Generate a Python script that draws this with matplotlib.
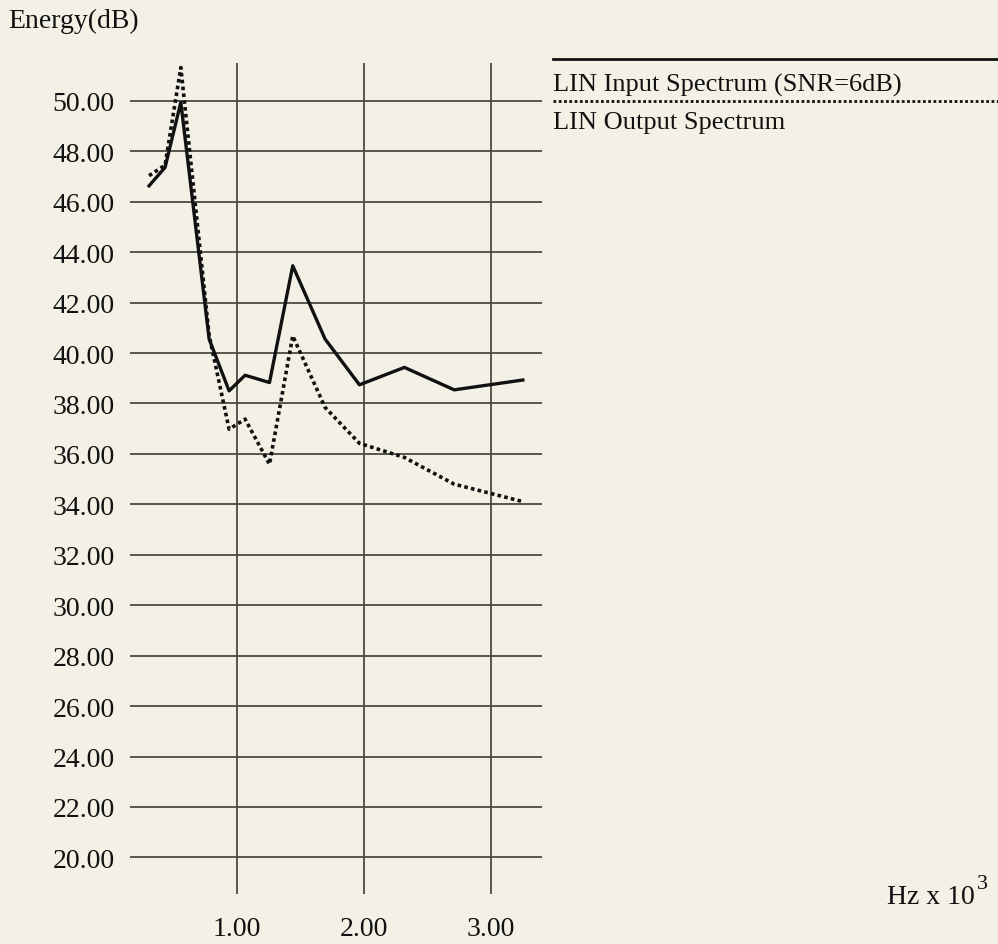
import matplotlib
matplotlib.use("Agg")
import matplotlib.pyplot as plt

# -----------------------------
# DATA
# -----------------------------
freq_khz = [0.307, 0.433, 0.557, 0.780, 0.937, 1.063, 1.255, 1.438,
            1.693, 1.963, 2.317, 2.709, 3.249]
input_db = [46.63, 47.36, 49.94, 40.55, 38.50, 39.12, 38.83, 43.46,
            40.55, 38.74, 39.43, 38.54, 38.93]
output_db = [47.03, 47.45, 51.32, 40.70, 36.98, 37.38, 35.59, 40.68,
             37.84, 36.42, 35.86, 34.80, 34.11]

y_ticks = list(range(20, 51, 2))
x_ticks = [1, 2, 3]

input_label = "LIN Input Spectrum (SNR=6dB)"
output_label = "LIN Output Spectrum"

# -----------------------------
# STYLE
# -----------------------------
BG = "#f3f0e6"
GRID = "#4a4a44"
INK = "#111111"
plt.rcParams["font.family"] = ["Liberation Serif", "DejaVu Serif"]
FS = 20
FS_LEG = 19
W, H = 998, 945


def fx(px):
    return px / W


def fy(py):
    return 1 - py / H


fig = plt.figure(figsize=(W / 100, H / 100), dpi=100, facecolor=BG)
ax = fig.add_axes([fx(130), fy(895), fx(542) - fx(130), fy(64) - fy(895)])
ax.set_facecolor(BG)

ax.set_xlim(0.157, 3.40)
ax.set_ylim(18.55, 51.5)
ax.set_yticks(y_ticks)
ax.set_yticklabels([f"{v:.2f}" for v in y_ticks])
ax.set_xticks(x_ticks)
ax.set_xticklabels([f"{v:.2f}" for v in x_ticks])
ax.tick_params(length=0, labelsize=FS, colors=INK)
ax.tick_params(axis="y", pad=11)
ax.tick_params(axis="x", pad=16)
for s in ax.spines.values():
    s.set_visible(False)
ax.grid(True, color=GRID, lw=1.3)
ax.set_axisbelow(True)

(l_in,) = ax.plot(freq_khz, input_db, color=INK, lw=2.4)
(l_out,) = ax.plot(freq_khz, output_db, color=INK, lw=2.6,
                   linestyle=(0, (1.0, 0.9)), dash_capstyle="butt")
l_out.set_clip_on(False)

# axis titles
fig.text(fx(8), fy(28), "Energy(dB)", fontsize=FS, color=INK, va="baseline", ha="left")
fig.text(fx(887), fy(904), "Hz x 10", fontsize=FS, color=INK, va="baseline", ha="left")
fig.text(fx(977), fy(889), "3", fontsize=16, color=INK, va="baseline", ha="left")

# legend drawn as rules with captions underneath
fig.add_artist(plt.Line2D([fx(553), 1.0], [fy(60)] * 2, color=INK, lw=2.0,
                          transform=fig.transFigure))
fig.text(fx(553), fy(92), input_label, fontsize=FS_LEG, color=INK, va="baseline", ha="left")
fig.add_artist(plt.Line2D([fx(553), 1.0], [fy(102)] * 2, color=INK, lw=2.0,
                          linestyle=(0, (1.0, 0.9)), transform=fig.transFigure))
fig.text(fx(553), fy(129), output_label, fontsize=FS_LEG, color=INK, va="baseline", ha="left")

fig.savefig("out.png", dpi=100, facecolor=BG)
